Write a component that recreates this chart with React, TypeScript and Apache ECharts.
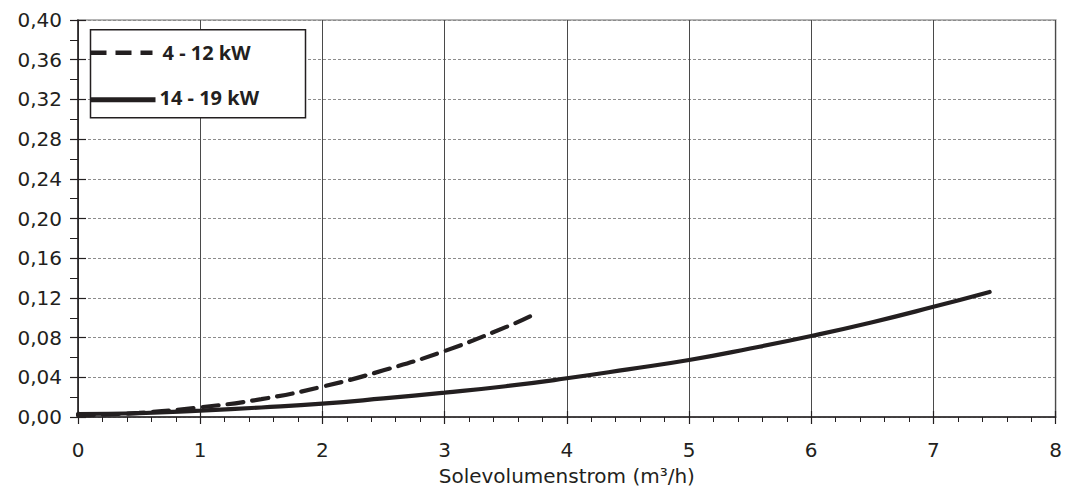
import React, { useEffect, useRef } from "react";
import * as echarts from "echarts";

// Solid curve: 14 - 19 kW
const solidX = [0, 0.5, 1, 1.5, 2, 2.5, 3, 3.5, 4, 4.5, 5, 5.5, 6, 6.5, 7, 7.46];
const solidY = [0.003, 0.0038, 0.0064, 0.0096, 0.0134, 0.0187, 0.0245, 0.031, 0.039, 0.048, 0.0574, 0.069, 0.0816, 0.0955, 0.111, 0.126];

// Dashed curve: 4 - 12 kW
const dashedX = [0, 0.5, 1, 1.5, 2, 2.5, 3, 3.5, 3.7];
const dashedY = [0.0015, 0.0042, 0.0098, 0.018, 0.0306, 0.047, 0.0665, 0.0905, 0.1015];

const seriesNames = ["4 - 12 kW", "14 - 19 kW"];
const xAxisTitle = "Solevolumenstrom (m³/h)";
const xMin = 0, xMax = 8, xStep = 1;
const yMin = 0, yMax = 0.4, yStep = 0.04;

const INK = "#231f20";
const TICK_FONT = "DejaVu Sans";

export default function App() {
  const ref = useRef<HTMLDivElement>(null);

  useEffect(() => {
    if (!ref.current) return;
    const chart = echarts.init(ref.current, undefined, { renderer: "svg" });

    const solidData = solidX.map((x, i) => [x, solidY[i]]);
    const dashedData = dashedX.map((x, i) => [x, dashedY[i]]);

    const baseX = {
      type: "value" as const,
      min: xMin,
      max: xMax,
      interval: xStep,
      position: "bottom" as const,
    };
    const baseY = {
      type: "value" as const,
      min: yMin,
      max: yMax,
      interval: yStep,
      position: "left" as const,
    };

    const legendText = (text: string, x: number, y: number) => ({
      type: "text",
      x,
      y,
      z: 101,
      style: {
        text,
        fontFamily: "Noto Sans",
        fontWeight: "bold",
        fontSize: 20,
        fill: INK,
        verticalAlign: "middle",
        align: "left",
      },
    });

    chart.setOption({
      animation: false,
      backgroundColor: "#ffffff",
      grid: {
        left: 78,
        right: 9,
        top: 20,
        bottom: 77,
        show: true,
        borderColor: "#b4b4b4",
        borderWidth: 2,
        backgroundColor: "transparent",
      },
      xAxis: [
        {
          ...baseX,
          name: xAxisTitle,
          nameLocation: "middle",
          nameGap: 49,
          nameTextStyle: { fontFamily: TICK_FONT, fontSize: 20, color: INK },
          axisLine: { show: true, lineStyle: { color: INK, width: 1.5 } },
          axisTick: { show: true, inside: false, length: 7, lineStyle: { color: INK, width: 1.2 } },
          minorTick: { show: true, splitNumber: 5, length: 5, lineStyle: { color: INK, width: 1 } },
          axisLabel: {
            margin: 23,
            fontFamily: TICK_FONT,
            fontSize: 20,
            color: INK,
          },
          splitLine: { show: true, lineStyle: { color: "#4a4a4a", width: 1, type: "solid" } },
        },
        {
          ...baseX,
          axisLine: { show: false },
          axisTick: { show: true, inside: true, length: 6, lineStyle: { color: INK, width: 1.2 } },
          axisLabel: { show: false },
          splitLine: { show: false },
        },
      ],
      yAxis: [
        {
          ...baseY,
          axisLine: { show: true, lineStyle: { color: INK, width: 1.5 } },
          axisTick: { show: true, inside: false, length: 8, lineStyle: { color: INK, width: 1.2 } },
          minorTick: { show: true, splitNumber: 2, length: 8, lineStyle: { color: INK, width: 1 } },
          axisLabel: {
            margin: 16,
            fontFamily: TICK_FONT,
            fontSize: 20,
            color: INK,
            formatter: (v: number) => v.toFixed(2).replace(".", ","),
          },
          splitLine: { show: true, lineStyle: { color: "#8c8c8c", width: 1, type: [3, 2] } },
        },
        {
          ...baseY,
          axisLine: { show: false },
          axisTick: { show: true, inside: true, length: 8, lineStyle: { color: INK, width: 1.2 } },
          axisLabel: { show: false },
          splitLine: { show: false },
        },
      ],
      series: [
        {
          name: seriesNames[0],
          type: "line",
          xAxisIndex: 0,
          yAxisIndex: 0,
          data: dashedData,
          smooth: true,
          showSymbol: false,
          symbol: "none",
          lineStyle: { color: INK, width: 4.2, type: [16, 9], cap: "round" },
          z: 5,
        },
        {
          name: seriesNames[1],
          type: "line",
          xAxisIndex: 0,
          yAxisIndex: 0,
          data: solidData,
          smooth: true,
          showSymbol: false,
          symbol: "none",
          lineStyle: { color: INK, width: 4.2, type: "solid", cap: "round" },
          z: 6,
        },
      ],
      graphic: [
        {
          type: "group",
          left: 88,
          top: 29,
          z: 100,
          children: [
            {
              type: "rect",
              z: 100,
              shape: { x: 0, y: 0, width: 215, height: 88 },
              style: { fill: "#ffffff", stroke: INK, lineWidth: 1.5 },
            },
            {
              type: "line",
              z: 101,
              shape: { x1: 0, y1: 23, x2: 62, y2: 23 },
              style: { stroke: INK, lineWidth: 4.5, lineDash: [16, 9] },
            },
            legendText(seriesNames[0], 72, 23),
            {
              type: "rect",
              z: 101,
              shape: { x: 0, y: 67.5, width: 65, height: 5 },
              style: { fill: INK, stroke: "none" },
            },
            legendText(seriesNames[1], 69, 68),
          ],
        },
      ],
    });

    return () => chart.dispose();
  }, []);

  return (
    <div
      ref={ref}
      style={{ position: "fixed", left: 0, top: 0, width: 1065, height: 494, background: "#fff" }}
    />
  );
}
